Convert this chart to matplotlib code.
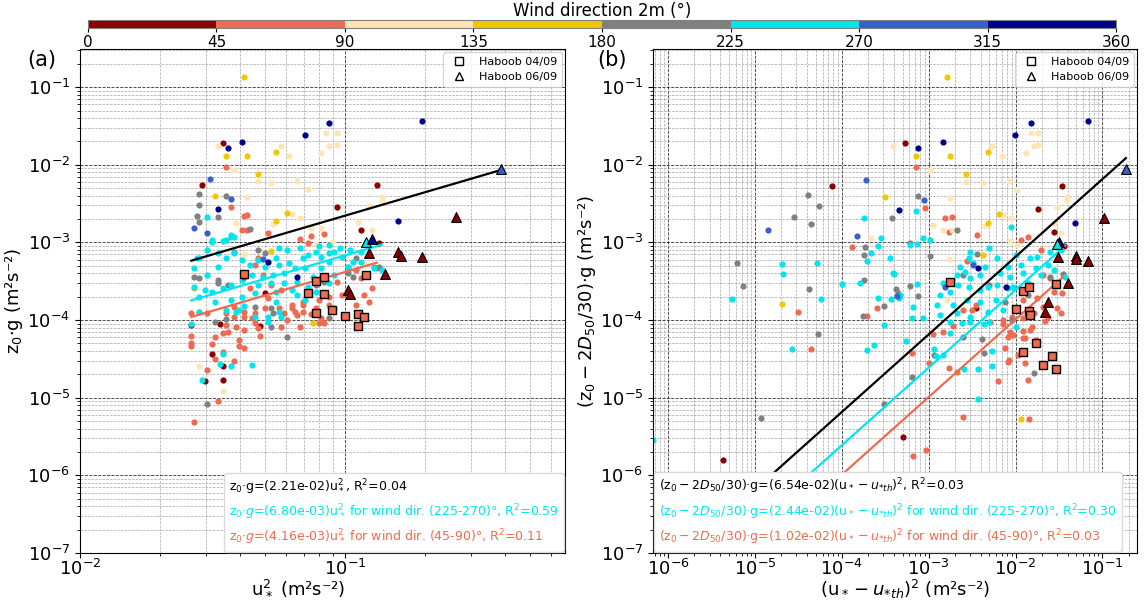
"""
Roughness length vs friction velocity, coloured by 2 m wind direction.
Two panels: (a) z0*g vs u*^2, (b) (z0 - 2D50/30)*g vs (u* - u*th)^2.
"""

import numpy as np
import matplotlib
matplotlib.use("Agg")
import matplotlib.pyplot as plt
from matplotlib.colors import ListedColormap, BoundaryNorm
from matplotlib.cm import ScalarMappable
from matplotlib.lines import Line2D
from matplotlib.ticker import LogLocator, NullFormatter, FixedLocator

# ── Wind sectors ──────────────────────────────────────────────────────────────
SECTOR_EDGES = [0, 45, 90, 135, 180, 225, 270, 315, 360]
SECTOR_COLORS = ["#8B0000", "#EE6A50", "#FFE4B5", "#EEC900",
                 "#808080", "#00E5EE", "#3A5FCD", "#00008B"]

# ── Panel (a): (log10 u*^2, log10 z0*g) per wind sector ──────────────────────
A_000_045 = [(-1.46, -1.72), (-1.54, -2.26), (-0.88, -2.26), (-1.03, -2.54), (-0.94, -2.84),
             (-0.87, -3.01), (-1.58, -4.06), (-1.47, -4.05), (-1.32, -4.08), (-1.50, -4.44),
             (-1.46, -4.59), (-1.46, -4.77), (-1.53, -4.78), (-1.30, -3.65)]
A_045_090 = [(-1.45, -2.03), (-1.43, -2.54), (-1.38, -2.66), (-1.37, -2.65), (-1.29, -2.88),
             (-1.13, -2.92), (-1.08, -2.89), (-1.17, -2.96), (-1.14, -3.01), (-1.39, -2.84),
             (-1.37, -2.84), (-1.33, -3.20), (-0.99, -3.32), (-0.96, -3.36), (-1.03, -3.51),
             (-0.94, -3.46), (-0.90, -3.59), (-0.93, -3.68), (-0.89, -3.32), (-0.88, -3.33),
             (-1.01, -3.68), (-1.06, -3.70), (-1.10, -3.74), (-1.16, -3.77), (-1.20, -3.81),
             (-1.25, -3.84), (-1.30, -3.84), (-1.34, -3.91), (-1.23, -3.91), (-1.16, -3.90),
             (-1.11, -3.87), (-1.04, -3.84), (-0.96, -3.81), (-0.91, -3.77), (-1.58, -3.91),
             (-1.52, -3.91), (-1.45, -3.91), (-1.55, -3.90), (-1.42, -3.83), (-1.42, -3.96),
             (-1.38, -3.96), (-1.35, -3.97), (-1.45, -4.06), (-1.41, -4.09), (-1.33, -4.10),
             (-1.38, -4.13), (-1.46, -4.17), (-1.44, -4.15), (-1.49, -4.22), (-1.58, -4.20),
             (-1.58, -4.29), (-1.58, -4.33), (-1.50, -4.31), (-1.40, -4.26), (-1.40, -4.33),
             (-1.38, -4.36), (-1.42, -4.53), (-1.49, -4.50), (-1.46, -4.41), (-1.52, -4.64),
             (-1.48, -5.04), (-1.57, -5.31), (-1.34, -4.04), (-1.24, -4.09), (-1.22, -4.00),
             (-1.20, -3.84), (-1.19, -3.90), (-1.18, -3.93), (-1.17, -4.09), (-1.16, -3.81),
             (-1.13, -3.92), (-1.11, -3.84), (-1.09, -3.97), (-1.09, -4.01), (-1.08, -4.04),
             (-1.10, -4.04), (-1.06, -3.81), (-1.32, -4.20), (-1.38, -3.90), (-1.34, -3.29),
             (-1.31, -3.42), (-1.28, -3.55), (-1.36, -3.59), (-1.24, -3.61), (-1.29, -3.72)]
A_090_135 = [(-1.07, -1.59), (-1.03, -1.59), (-1.06, -1.76), (-1.03, -1.75), (-1.09, -1.85),
             (-1.48, -1.76), (-1.24, -1.76), (-1.21, -1.89), (-1.42, -2.07), (-1.33, -2.21),
             (-1.28, -2.24), (-1.18, -2.21), (-1.14, -2.31), (-1.37, -2.42), (-1.20, -2.63),
             (-1.17, -2.69), (-1.13, -2.81), (-1.09, -2.81), (-1.27, -2.76), (-1.41, -2.75),
             (-0.91, -2.53), (-0.86, -2.45), (-0.86, -2.42), (-0.95, -2.74), (-0.90, -2.84),
             (-1.05, -2.99), (-1.11, -3.02), (-1.38, -3.15), (-1.55, -4.59), (-1.46, -4.91),
             (-0.92, -3.28)]
A_135_180 = [(-1.38, -0.87), (-1.26, -1.84), (-1.37, -1.89), (-1.45, -1.89), (-1.33, -2.12),
             (-1.49, -2.40), (-1.22, -2.62), (-1.26, -2.72), (-1.28, -3.11), (-1.57, -3.59),
             (-1.12, -4.04)]
A_180_225 = [(-1.55, -2.38), (-1.55, -2.52), (-1.56, -2.66), (-1.55, -2.74), (-1.45, -2.40),
             (-1.48, -2.67), (-1.36, -2.83), (-1.42, -3.12), (-1.33, -3.10), (-1.30, -3.14),
             (-1.57, -3.45), (-1.55, -3.46), (-1.48, -3.48), (-1.48, -3.52), (-1.44, -3.55),
             (-1.08, -3.51), (-0.99, -3.39), (-0.97, -3.45), (-1.11, -3.55), (-1.34, -3.83),
             (-1.49, -4.02), (-1.45, -3.99), (-1.28, -4.09), (-1.27, -3.91), (-1.28, -3.84),
             (-1.22, -4.22), (-1.06, -3.97), (-1.52, -5.08), (-0.96, -3.20), (-0.87, -3.32)]
A_225_270 = [(-1.52, -3.10), (-1.50, -2.97), (-1.45, -2.97), (-1.43, -2.93), (-1.56, -3.20),
             (-1.57, -3.33), (-1.52, -3.42), (-1.48, -3.32), (-1.45, -3.20), (-1.42, -3.14),
             (-1.39, -3.23), (-1.36, -3.29), (-1.33, -3.23), (-1.30, -3.32), (-1.26, -3.20),
             (-1.25, -3.29), (-1.21, -3.27), (-1.19, -3.33), (-1.16, -3.20), (-1.14, -3.16),
             (-1.11, -3.12), (-1.09, -3.19), (-1.06, -3.14), (-1.04, -3.12), (-1.01, -3.19),
             (-0.97, -3.25), (-1.06, -3.25), (-1.15, -3.33), (-1.23, -3.39), (-1.27, -3.42),
             (-1.31, -3.45), (-1.35, -3.42), (-1.39, -3.48), (-1.43, -3.55), (-1.46, -3.59),
             (-1.50, -3.64), (-1.53, -3.61), (-1.57, -3.57), (-1.33, -3.55), (-1.28, -3.52),
             (-1.23, -3.52), (-1.18, -3.51), (-1.12, -3.45), (-1.34, -3.65), (-1.39, -3.70),
             (-1.43, -3.74), (-1.49, -3.77), (-1.55, -3.70), (-1.26, -3.64), (-1.20, -3.61),
             (-1.14, -3.57), (-1.09, -3.33), (-1.04, -3.42), (-0.99, -3.32), (-0.94, -3.25),
             (-0.89, -3.33), (-0.86, -3.36), (-1.26, -3.77), (-1.40, -3.87), (-1.45, -3.87),
             (-1.55, -3.90), (-1.18, -3.68), (-1.11, -3.64), (-1.06, -3.52), (-1.15, -3.74),
             (-1.52, -2.67), (-1.43, -2.90), (-1.42, -2.93), (-1.46, -2.98), (-1.50, -2.99),
             (-1.48, -3.14), (-1.55, -3.20), (-1.41, -3.90), (-1.38, -3.82), (-1.34, -3.96),
             (-1.29, -3.96), (-1.29, -4.02), (-1.25, -3.90), (-1.24, -3.96), (-1.46, -4.44),
             (-1.47, -4.57), (-1.43, -4.59), (-1.35, -4.58), (-1.54, -4.77), (-1.58, -4.05),
             (-1.17, -3.07), (-1.10, -3.05), (-1.06, -3.03), (-1.02, -3.07), (-0.98, -3.10),
             (-0.94, -3.12), (-1.22, -3.10), (-1.25, -3.07)]
A_270_315 = [(-1.51, -2.18), (-1.43, -2.44), (-1.57, -2.81), (-1.52, -2.88), (-1.31, -3.21),
             (-1.38, -3.45)]
A_315_360 = [(-0.71, -1.44), (-1.06, -1.46), (-1.15, -1.62), (-1.44, -1.79), (-1.39, -1.71),
             (-1.48, -2.57), (-0.80, -2.72), (-1.29, -3.25), (-1.18, -3.45)]
# Haboob 04/09 (all in 45-90 sector) and Haboob 06/09 (x, y, sector index)
A_HABOOB_0409 = [(-1.38, -3.41), (-1.11, -3.50), (-1.08, -3.45), (-0.92, -3.42), (-1.14, -3.65),
                 (-1.08, -3.66), (-1.11, -3.91), (-1.05, -3.87), (-1.00, -3.95), (-0.95, -3.92),
                 (-0.93, -3.96), (-0.95, -4.08)]
A_HABOOB_0609 = [(-0.41, -2.06, 6), (-0.58, -2.67, 0), (-0.91, -3.14, 0), (-0.80, -3.12, 0),
                 (-0.79, -3.18, 0), (-0.71, -3.19, 0), (-0.85, -3.41, 0), (-0.99, -3.61, 0),
                 (-0.98, -3.66, 0), (-0.92, -2.99, 5), (-0.90, -2.96, 7)]

# ── Panel (b): (log10 (u*-u*th)^2, log10 (z0-2D50/30)*g) per wind sector ───
B_000_045 = [(-3.27, -1.72), (-4.11, -2.27), (-1.46, -2.27), (-1.74, -2.57), (-1.56, -2.87),
             (-1.44, -3.05), (-2.45, -3.84), (-5.37, -5.80), (-3.30, -5.50)]
B_045_090 = [(-3.15, -2.03), (-3.04, -2.56), (-2.81, -2.69), (-2.73, -2.67), (-2.77, -2.87),
             (-2.44, -2.90), (-4.50, -3.90), (-4.36, -4.37), (-2.60, -5.25), (-3.18, -5.75),
             (-3.03, -5.68), (-1.85, -5.27), (-2.20, -4.78), (-1.86, -4.77), (-3.19, -4.42),
             (-3.00, -4.55), (-2.95, -4.18), (-2.84, -4.15), (-2.77, -4.62), (-2.67, -4.67),
             (-2.72, -4.08), (-2.15, -4.05), (-2.06, -4.15), (-2.03, -4.19), (-2.09, -4.22),
             (-1.92, -4.23), (-1.89, -4.23), (-1.91, -4.14), (-1.81, -4.09), (-1.83, -4.13),
             (-1.77, -4.26), (-2.12, -4.36), (-1.97, -4.45), (-2.08, -4.51), (-2.09, -4.54),
             (-1.89, -4.55), (-1.66, -4.01), (-2.56, -3.24), (-1.94, -2.97), (-1.86, -2.93),
             (-1.69, -3.42), (-1.60, -3.46), (-1.56, -3.64), (-1.46, -3.65), (-1.75, -3.72),
             (-1.68, -3.83), (-1.52, -3.84), (-1.48, -3.91), (-1.79, -3.91), (-1.91, -3.74),
             (-2.04, -3.96), (-2.15, -4.00), (-1.92, -3.97), (-1.63, -3.96), (-2.50, -3.87),
             (-2.29, -4.02), (-2.46, -3.81), (-2.60, -3.87), (-3.71, -3.95), (-3.60, -3.84),
             (-3.88, -3.06), (-1.71, -3.10)]
B_090_135 = [(-1.82, -1.59), (-1.74, -1.59), (-1.79, -1.76), (-1.74, -1.75), (-1.88, -1.85),
             (-3.41, -1.76), (-2.27, -1.76), (-2.16, -1.89), (-2.99, -2.07), (-2.57, -2.22),
             (-2.37, -2.24), (-2.08, -2.21), (-1.98, -2.33), (-2.75, -2.43), (-2.15, -2.65),
             (-2.05, -2.69), (-1.52, -2.54), (-1.41, -2.45), (-1.41, -2.42), (-1.56, -2.75),
             (-2.95, -2.78), (-2.84, -2.84), (-2.73, -2.84), (-3.66, -2.94), (-2.35, -2.79),
             (-2.06, -2.98), (-1.98, -3.03), (-2.77, -3.21), (-2.79, -3.74), (-1.48, -2.88)]
B_135_180 = [(-2.79, -0.87), (-2.32, -1.84), (-2.75, -1.89), (-3.15, -1.89), (-2.57, -2.12),
             (-3.50, -2.42), (-2.19, -2.63), (-2.32, -2.75), (-2.38, -3.16), (-4.69, -3.79),
             (-1.94, -5.27)]
B_180_225 = [(-4.39, -2.39), (-4.26, -2.53), (-4.55, -2.67), (-4.36, -2.76), (-3.12, -2.40),
             (-3.42, -2.69), (-2.68, -2.84), (-5.14, -3.56), (-4.38, -3.60), (-4.27, -4.18),
             (-4.93, -5.26), (-3.52, -5.08), (-3.19, -4.73), (-1.79, -4.68), (-2.36, -4.42),
             (-2.39, -4.24), (-2.94, -4.45), (-2.60, -4.22), (-3.76, -3.95), (-3.52, -3.82),
             (-3.38, -3.60), (-3.35, -3.65), (-3.22, -3.56), (-3.12, -3.69), (-2.98, -3.18),
             (-2.60, -3.42), (-2.44, -3.15), (-2.31, -3.55), (-1.86, -3.68), (-1.60, -3.45),
             (-1.45, -3.41), (-3.21, -3.01), (-2.12, -3.77), (-2.04, -4.00), (-3.73, -3.06),
             (-3.74, -3.16), (-5.21, -3.27), (-3.75, -3.48)]
B_225_270 = [(-3.15, -2.60), (-3.75, -2.69), (-2.05, -2.80), (-5.27, -3.73), (-4.24, -3.73),
             (-4.57, -4.37), (-2.43, -5.02), (-3.26, -4.27), (-3.19, -3.97), (-3.63, -4.32),
             (-3.71, -4.38), (-3.58, -3.72), (-3.52, -4.06), (-3.43, -3.73), (-3.34, -3.72),
             (-2.94, -4.37), (-2.92, -4.46), (-2.59, -4.63), (-2.43, -4.63), (-2.27, -4.59),
             (-2.27, -4.40), (-2.76, -4.17), (-2.84, -4.45), (-2.00, -4.09), (-2.76, -4.02),
             (-2.62, -4.04), (-2.52, -4.02), (-2.36, -4.05), (-2.31, -4.02), (-3.55, -2.94),
             (-3.58, -3.05), (-3.07, -2.94), (-3.14, -3.02), (-3.21, -3.03), (-3.71, -3.24),
             (-3.67, -3.14), (-4.69, -3.28), (-4.68, -3.41), (-4.29, -3.27), (-4.00, -3.54),
             (-3.79, -3.52), (-3.44, -3.20), (-3.40, -3.41), (-3.13, -3.54), (-6.17, -5.54),
             (-2.52, -3.12), (-2.54, -3.20), (-2.49, -3.27), (-2.64, -3.32), (-2.58, -3.38),
             (-2.67, -3.42), (-2.52, -3.46), (-2.41, -3.42), (-2.35, -3.32), (-2.31, -3.07),
             (-2.21, -3.20), (-2.18, -3.39), (-2.09, -3.32), (-2.06, -3.45), (-2.00, -3.16),
             (-1.94, -3.29), (-1.91, -3.39), (-1.83, -3.20), (-1.77, -3.33), (-1.75, -3.19),
             (-1.71, -3.42), (-1.63, -3.29), (-1.60, -3.12), (-1.56, -3.36), (-1.48, -3.10),
             (-1.43, -3.45), (-1.86, -3.52), (-2.03, -3.57), (-2.09, -3.59), (-2.21, -3.55),
             (-2.32, -3.57), (-2.41, -3.61), (-2.54, -3.57), (-2.66, -3.55), (-2.75, -3.64),
             (-2.83, -3.52), (-2.87, -3.68), (-2.90, -3.81), (-2.72, -3.81), (-2.56, -3.74),
             (-2.41, -3.77), (-2.23, -3.74), (-2.14, -3.87), (-2.32, -3.90), (-2.52, -3.96),
             (-2.67, -3.91), (-2.98, -2.97), (-3.41, -3.39), (-3.33, -3.68), (-3.18, -3.83),
             (-3.06, -3.97), (-2.87, -3.93)]
B_270_315 = [(-3.72, -2.20), (-3.05, -2.45), (-4.85, -2.84), (-3.83, -2.92), (-2.49, -3.29),
             (-2.81, -3.57), (-3.37, -3.69)]
B_315_360 = [(-1.17, -1.44), (-1.82, -1.46), (-2.01, -1.62), (-2.84, -1.71), (-3.12, -1.79),
             (-3.34, -2.58), (-1.32, -2.75), (-2.43, -3.33), (-2.11, -3.57)]
B_HABOOB_0409 = [(-2.76, -3.51), (-1.92, -3.63), (-1.84, -3.57), (-1.53, -3.54), (-2.00, -3.86),
                 (-1.84, -3.88), (-1.83, -3.93), (-1.77, -4.29), (-1.92, -4.41), (-1.58, -4.46),
                 (-1.68, -4.58), (-1.54, -4.63)]
B_HABOOB_0609 = [(-0.73, -2.06, 6), (-0.98, -2.69, 0), (-1.50, -2.99, 7), (-1.52, -3.02, 5),
                 (-1.51, -3.19, 0), (-1.30, -3.18, 0), (-1.30, -3.21, 0), (-1.17, -3.24, 0),
                 (-1.40, -3.52, 0), (-1.63, -3.77, 0), (-1.66, -3.90, 0)]

# ── Regression results: [all data, 225-270°, 45-90°] ────────────────────────
A_FIT_COEF = [2.21e-2, 6.80e-3, 4.16e-3]
A_FIT_R2 = [0.04, 0.59, 0.11]
B_FIT_COEF = [6.54e-2, 2.44e-2, 1.02e-2]
B_FIT_R2 = [0.03, 0.30, 0.03]

A_GROUPS = [A_000_045, A_045_090, A_090_135, A_135_180,
            A_180_225, A_225_270, A_270_315, A_315_360]
B_GROUPS = [B_000_045, B_045_090, B_090_135, B_135_180,
            B_180_225, B_225_270, B_270_315, B_315_360]
# ─────────────────────────────────────────────────────────────────────────────

YLIM = (1e-7, 0.31)
Y_DECADES = 10.0 ** np.arange(-7, 0)
FIT_COLORS = ["black", SECTOR_COLORS[5], SECTOR_COLORS[1]]


def style_axes(ax):
    ax.set_xscale("log")
    ax.set_yscale("log")
    ax.xaxis.set_major_locator(LogLocator(base=10, numticks=100))
    ax.yaxis.set_major_locator(FixedLocator(Y_DECADES))
    for axis in (ax.xaxis, ax.yaxis):
        axis.set_minor_locator(LogLocator(base=10, subs=np.arange(2, 10), numticks=100))
        axis.set_minor_formatter(NullFormatter())
    ax.grid(which="major", color="k", ls="--", lw=0.6, alpha=0.8)
    ax.grid(which="minor", color="grey", ls="--", lw=0.5, alpha=0.7)
    ax.tick_params(which="major", labelsize=13)
    ax.tick_params(axis="x", which="major", pad=1)
    ax.set_axisbelow(True)
    ax.set_ylim(*YLIM)


def draw_panel(ax, groups, squares, triangles, coefs, fit_xmin=None):
    for pts, col in zip(groups, SECTOR_COLORS):
        lx, ly = np.array(pts).T
        ax.scatter(10 ** lx, 10 ** ly, s=20, color=col, lw=0, zorder=2)

    # fit lines: all data, 225-270 sector, 45-90 sector
    all_x = np.concatenate([np.array(g)[:, 0] for g in groups]
                           + [np.array(squares)[:, 0], np.array(triangles)[:, 0]])
    cyan_x = np.concatenate([np.array(groups[5])[:, 0],
                             [t[0] for t in triangles if t[2] == 5]])
    salm_x = np.concatenate([np.array(groups[1])[:, 0], np.array(squares)[:, 0]])
    for xs, c, col in zip([all_x, cyan_x, salm_x], coefs, FIT_COLORS):
        lo = fit_xmin if fit_xmin is not None else 10 ** xs.min()
        x = np.logspace(np.log10(lo), xs.max(), 50)
        ax.plot(x, c * x, color=col, lw=1.6, zorder=3)

    sq = np.array(squares)
    ax.scatter(10 ** sq[:, 0], 10 ** sq[:, 1], marker="s", s=36,
               color=SECTOR_COLORS[1], edgecolor="k", lw=1.0, zorder=4)
    for lx, ly, k in triangles:
        ax.scatter(10 ** lx, 10 ** ly, marker="^", s=50,
                   color=SECTOR_COLORS[k], edgecolor="k", lw=0.8, zorder=4)

    hab = [Line2D([], [], marker="s", ls="none", mfc="none", mec="k", ms=6),
           Line2D([], [], marker="^", ls="none", mfc="none", mec="k", ms=6)]
    leg = ax.legend(hab, ["Haboob 04/09", "Haboob 06/09"], loc="upper right",
                    fontsize=8, borderaxespad=0.3)
    ax.add_artist(leg)


def fit_legend(ax, labels, loc):
    blanks = [Line2D([], [], ls="none") for _ in labels]
    ax.legend(blanks, labels, loc=loc, fontsize=9, handlelength=0,
              handletextpad=0, labelcolor=FIT_COLORS, borderaxespad=0.1,
              labelspacing=0.45, framealpha=1.0, edgecolor="0.85")


fig = plt.figure(figsize=(11.47, 6.01), dpi=100)
ax_a = fig.add_axes([0.0697, 0.0799, 0.4229, 0.8386])
ax_b = fig.add_axes([0.5693, 0.0799, 0.4220, 0.8386])
cax = fig.add_axes([0.0767, 0.9534, 0.8963, 0.0133])

# ── (a) ──────────────────────────────────────────────────────────────────────
style_axes(ax_a)
ax_a.set_xlim(1e-2, 0.676)
draw_panel(ax_a, A_GROUPS, A_HABOOB_0409, A_HABOOB_0609, A_FIT_COEF)
fit_legend(ax_a, [
    f"z$_0$·g=({A_FIT_COEF[0]:.2e})u$_*^2$, R$^2$={A_FIT_R2[0]:.2f}",
    f"z$_0$·$g$=({A_FIT_COEF[1]:.2e})u$_*^2$ for wind dir. (225-270)°, R$^2$={A_FIT_R2[1]:.2f}",
    f"z$_0$·$g$=({A_FIT_COEF[2]:.2e})u$_*^2$ for wind dir. (45-90)°, R$^2$={A_FIT_R2[2]:.2f}",
], "lower right")
ax_a.set_xlabel("u$_*^2$ (m²s⁻²)", fontsize=13)
ax_a.set_ylabel("z$_0$·g (m²s⁻²)", fontsize=13)
ax_a.xaxis.set_label_coords(0.45, -0.05)
ax_a.yaxis.set_label_coords(-0.113, 0.5)

# ── (b) ──────────────────────────────────────────────────────────────────────
style_axes(ax_b)
ax_b.set_xlim(6.7e-7, 0.25)
draw_panel(ax_b, B_GROUPS, B_HABOOB_0409, B_HABOOB_0609, B_FIT_COEF, fit_xmin=1e-7)
lhs = r"$(\mathrm{z}_0 - 2D_{50}/30)$·g"
rhs = r"$(\mathrm{u}_* - u_{*th})^2$"
fit_legend(ax_b, [
    f"{lhs}=({B_FIT_COEF[0]:.2e}){rhs}, R$^2$={B_FIT_R2[0]:.2f}",
    f"{lhs}=({B_FIT_COEF[1]:.2e}){rhs} for wind dir. (225-270)°, R$^2$={B_FIT_R2[1]:.2f}",
    f"{lhs}=({B_FIT_COEF[2]:.2e}){rhs} for wind dir. (45-90)°, R$^2$={B_FIT_R2[2]:.2f}",
], "lower left")
ax_b.set_xlabel(rhs + " (m²s⁻²)", fontsize=13)
ax_b.set_ylabel(lhs + " (m²s⁻²)", fontsize=13)
ax_b.xaxis.set_label_coords(0.52, -0.05)
ax_b.yaxis.set_label_coords(-0.114, 0.5)

fig.text(0.024, 0.89, "(a)", fontsize=15)
fig.text(0.521, 0.89, "(b)", fontsize=15)

# ── Colorbar ────────────────────────────────────────────────────────────────
cmap = ListedColormap(SECTOR_COLORS)
norm = BoundaryNorm(SECTOR_EDGES, cmap.N)
cb = fig.colorbar(ScalarMappable(norm=norm, cmap=cmap), cax=cax, orientation="horizontal")
cb.set_ticks(SECTOR_EDGES)
cb.ax.tick_params(labelsize=11, length=3, pad=2)
cb.outline.set_edgecolor("grey")
cax.xaxis.set_label_position("top")
cb.set_label("Wind direction 2m (°)", fontsize=12, labelpad=3)

fig.savefig("out.png", dpi=100)
